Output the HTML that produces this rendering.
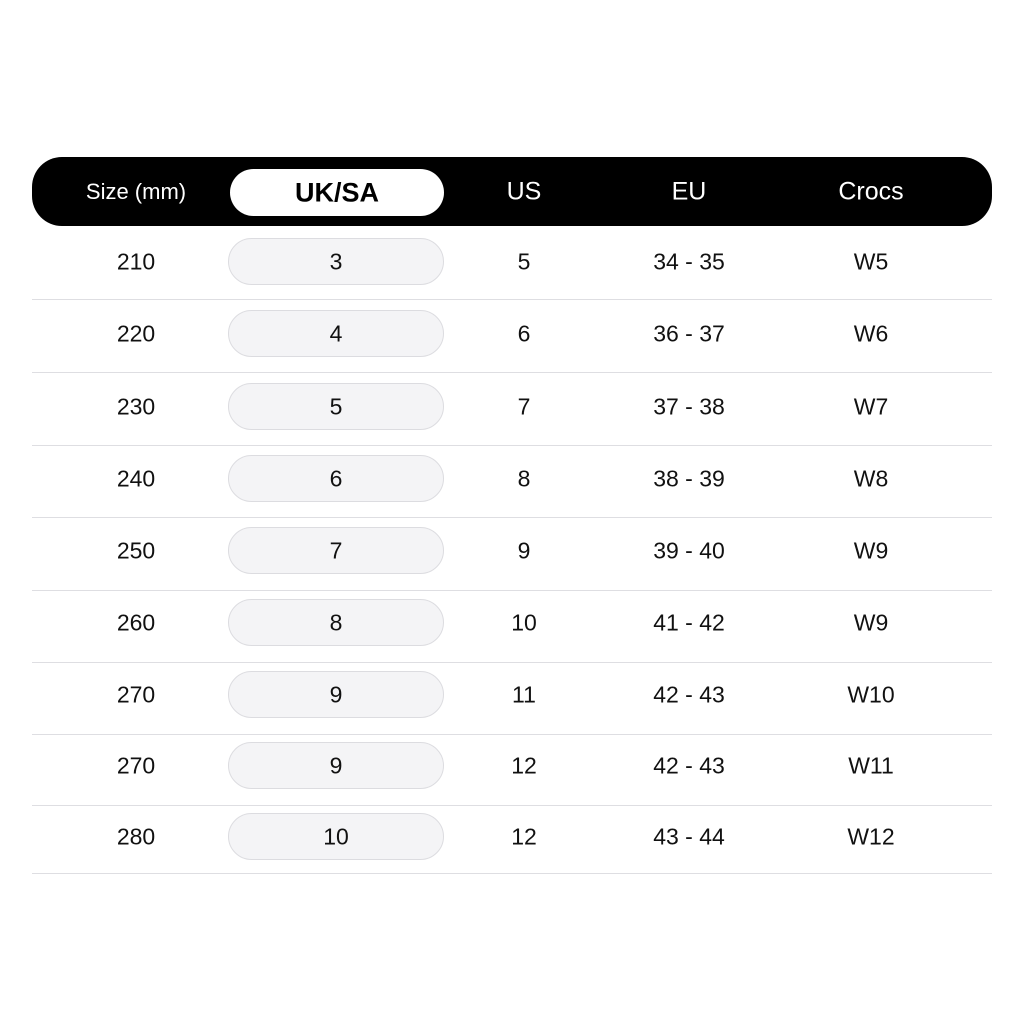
<!DOCTYPE html>
<html><head><meta charset="utf-8"><style>
body{margin:0;width:1024px;height:1024px;background:#fff;position:relative;font-family:"Liberation Sans",sans-serif;overflow:hidden}
.hdr{position:absolute;left:32px;top:157px;width:960px;height:69px;background:#000;border-radius:30px}
.t{position:absolute;transform:translate(-50%,-50%);white-space:nowrap;color:#111;font-size:23px}
.h{color:#fff;font-size:25px}
.hp{position:absolute;left:230px;top:169px;width:214px;height:47px;background:#fff;border-radius:24px}
.p{position:absolute;left:228px;width:216px;height:47px;background:#f4f4f6;border:1px solid #dcdce0;border-radius:24px;box-sizing:border-box}
.l{position:absolute;left:32px;width:960px;height:1px;background:#dedee2}
</style></head><body>
<div class="hdr"></div><div class="hp"></div>
<div class="t h" style="left:136px;top:192px;font-size:22px">Size (mm)</div>
<div class="t" style="left:337px;top:193px;font-size:27px;font-weight:bold;color:#000">UK/SA</div>
<div class="t h" style="left:524px;top:192px">US</div>
<div class="t h" style="left:689px;top:192px">EU</div>
<div class="t h" style="left:871px;top:192px">Crocs</div>
<script>
var d=[[262,210,3,5,"34 - 35","W5"],[334,220,4,6,"36 - 37","W6"],[407,230,5,7,"37 - 38","W7"],[479,240,6,8,"38 - 39","W8"],[551,250,7,9,"39 - 40","W9"],[623,260,8,10,"41 - 42","W9"],[695,270,9,11,"42 - 43","W10"],[766,270,9,12,"42 - 43","W11"],[837,280,10,12,"43 - 44","W12"]];
var lines=[299,372,445,517,590,662,734,805,873],h="";
d.forEach(function(r,i){var y=r[0];
h+='<div class="p" style="top:'+(y-24)+'px"></div>';
[[136,r[1]],[336,r[2]],[524,r[3]],[689,r[4]],[871,r[5]]].forEach(function(c){h+='<div class="t" style="left:'+c[0]+'px;top:'+y+'px">'+c[1]+'</div>'});
h+='<div class="l" style="top:'+lines[i]+'px"></div>';});
document.write(h);
</script>
</body></html>
